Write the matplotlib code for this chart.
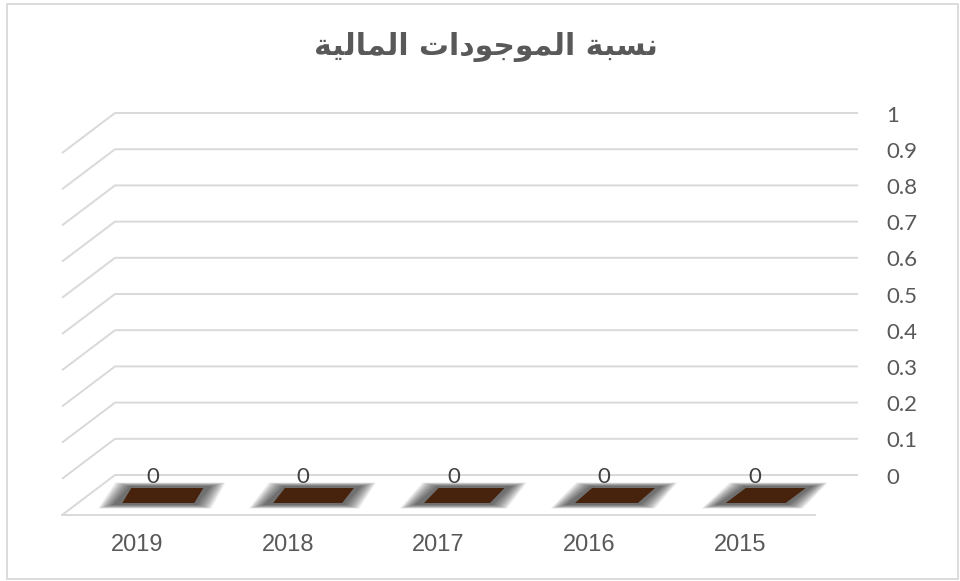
import matplotlib
matplotlib.use("Agg")
import matplotlib.pyplot as plt
from matplotlib.patches import Polygon, Rectangle
import numpy as np

# ---------------- data ----------------
title = "نسبة الموجودات المالية"
categories = ["2015", "2016", "2017", "2018", "2019"]   # shown right-to-left
values = [0, 0, 0, 0, 0]
y_ticks = [0, 0.1, 0.2, 0.3, 0.4, 0.5, 0.6, 0.7, 0.8, 0.9, 1]
y_tick_labels = ["0", "0.1", "0.2", "0.3", "0.4", "0.5", "0.6", "0.7", "0.8", "0.9", "1"]

# ---------------- minimal Arabic shaping ----------------
FORMS = {  # isolated, final, initial, medial
    'ن': ('\uFEE5', '\uFEE6', '\uFEE7', '\uFEE8'),
    'س': ('\uFEB1', '\uFEB2', '\uFEB3', '\uFEB4'),
    'ب': ('\uFE8F', '\uFE90', '\uFE91', '\uFE92'),
    'ة': ('\uFE93', '\uFE94', '\uFE93', '\uFE94'),
    'ا': ('\uFE8D', '\uFE8E', '\uFE8D', '\uFE8E'),
    'ل': ('\uFEDD', '\uFEDE', '\uFEDF', '\uFEE0'),
    'م': ('\uFEE1', '\uFEE2', '\uFEE3', '\uFEE4'),
    'و': ('\uFEED', '\uFEEE', '\uFEED', '\uFEEE'),
    'ج': ('\uFE9D', '\uFE9E', '\uFE9F', '\uFEA0'),
    'د': ('\uFEA9', '\uFEAA', '\uFEA9', '\uFEAA'),
    'ت': ('\uFE95', '\uFE96', '\uFE97', '\uFE98'),
    'ي': ('\uFEF1', '\uFEF2', '\uFEF3', '\uFEF4'),
}
DUAL = set('نسبلمجتي')


def shape_arabic(s):
    out = []
    for i, ch in enumerate(s):
        if ch not in FORMS:
            out.append(ch)
            continue
        prev = s[i - 1] if i > 0 else None
        nxt = s[i + 1] if i + 1 < len(s) else None
        jp = prev in DUAL if prev else False
        jn = (ch in DUAL) and (nxt in FORMS if nxt else False)
        if jp and jn:
            out.append(FORMS[ch][3])
        elif jp:
            out.append(FORMS[ch][1])
        elif jn:
            out.append(FORMS[ch][2])
        else:
            out.append(FORMS[ch][0])
    return ''.join(reversed(out))


# ---------------- figure / pseudo-3D axes ----------------
W, H = 960, 581
fig = plt.figure(figsize=(W / 100, H / 100), dpi=100)
ax = fig.add_axes([0, 0, 1, 1])
ax.set_xlim(-1.274, 5.186)
ax.set_ylim(-0.2928, 1.3122)
ax.axis("off")

PX_X = W / (5.186 + 1.274)        # pixels per category unit
PX_Y = H / (1.3122 + 0.2928)      # pixels per value unit
DEPTH_DY = -40 / PX_Y              # floor depth in value units


def depth_dx(x):
    # perspective: horizontal depth shift (category units) varies along x
    px = -53 + (x + 0.5) / 5 * 10
    return px / PX_X


def proj(x, v, d):
    return x + d * depth_dx(x), v + d * DEPTH_DY


grid_col = "#d9d9d9"
x0, x1 = -0.5, len(categories) - 0.5
for v in y_ticks:
    bx0, by0 = proj(x0, v, 0)
    bx1, by1 = proj(x1, v, 0)
    fx0, fy0 = proj(x0, v, 1)
    ax.plot([fx0, bx0, bx1], [fy0, by0, by1], color=grid_col, lw=1.4,
            solid_capstyle="butt", zorder=1)
# floor front edge
fx0, fy0 = proj(x0, 0, 1)
fx1, fy1 = proj(x1, 0, 1)
ax.plot([fx0, fx1], [fy0, fy1], color=grid_col, lw=1.4, zorder=1)

# y tick labels (right side)
lab_x = -1.274 + 886 / PX_X
for v, t in zip(y_ticks, y_tick_labels):
    ax.text(lab_x, v - 0.007, t, ha="left", va="center",
            fontsize=16, family="Lato", color="#595959")

# bars (flat, value 0) with blurred shadow
bar_col = "#47230D"
n = len(categories)
px = 1 / PX_X
py = 1 / PX_Y
for i, (cat, val) in enumerate(zip(categories, values)):
    xc = n - 1 - i   # reversed order (2019 on the left)
    t = xc / (n - 1)
    sb = (-22 + 14 * t) * px      # shift at back edge
    sf = (-31 + 3 * t) * px       # shift at front edge
    hw = (36 - 6 * t) * px
    yb = val + 0.325 * DEPTH_DY
    yf = val + 0.70 * DEPTH_DY
    bar = [(xc - hw + sb, yb), (xc + hw + sb, yb),
           (xc + hw + sf, yf), (xc - hw + sf, yf)]
    # shadow core (more elongated parallelogram), blurred by layering
    core = np.array([(xc - hw + sb - 2 * px, yb + 2 * py),
                     (xc + hw + sb + 8 * px, yb + 2 * py),
                     (xc + hw + sf + 3 * px, yf - 2 * py),
                     (xc - hw + sf - 10 * px, yf - 2 * py)])
    signs = np.array([(-1, 1), (1, 1), (1, -1), (-1, -1)])
    for k in np.arange(16, -2, -0.5):
        shp = core + signs * np.array([k * 0.9 * px, k * 0.22 * py])
        ax.add_patch(Polygon(shp, closed=True, facecolor="#2e2e2e",
                             edgecolor="none", alpha=0.028, zorder=2))
    ax.add_patch(Polygon(bar, closed=True, facecolor=bar_col,
                         edgecolor="none", zorder=3))
    # data label
    lx = xc + (-36.5 + 7.5 * t) * px
    ax.text(lx, val - 0.005, f"{val:g}", ha="center", va="center",
            fontsize=16, family="Lato", color="#404040", zorder=4)
    # category label at front of floor
    cx, _ = proj(xc, 0, 1)
    ax.text(cx, -0.193, cat, ha="center", va="center", fontsize=17,
            family="Liberation Sans", color="#595959")

# title
fig.text(486 / W, 1 - 47 / H, shape_arabic(title), ha="center", va="center",
         fontsize=21.5, fontweight="bold", family="DejaVu Sans", color="#595959")

# chart border
fig.patches.append(Rectangle((7 / W, 1 - 579 / H), (958 - 7) / W, (579 - 4) / H,
                             transform=fig.transFigure, fill=False,
                             edgecolor="#d9d9d9", lw=1.3))

fig.savefig("out.png", dpi=100, facecolor="white")
